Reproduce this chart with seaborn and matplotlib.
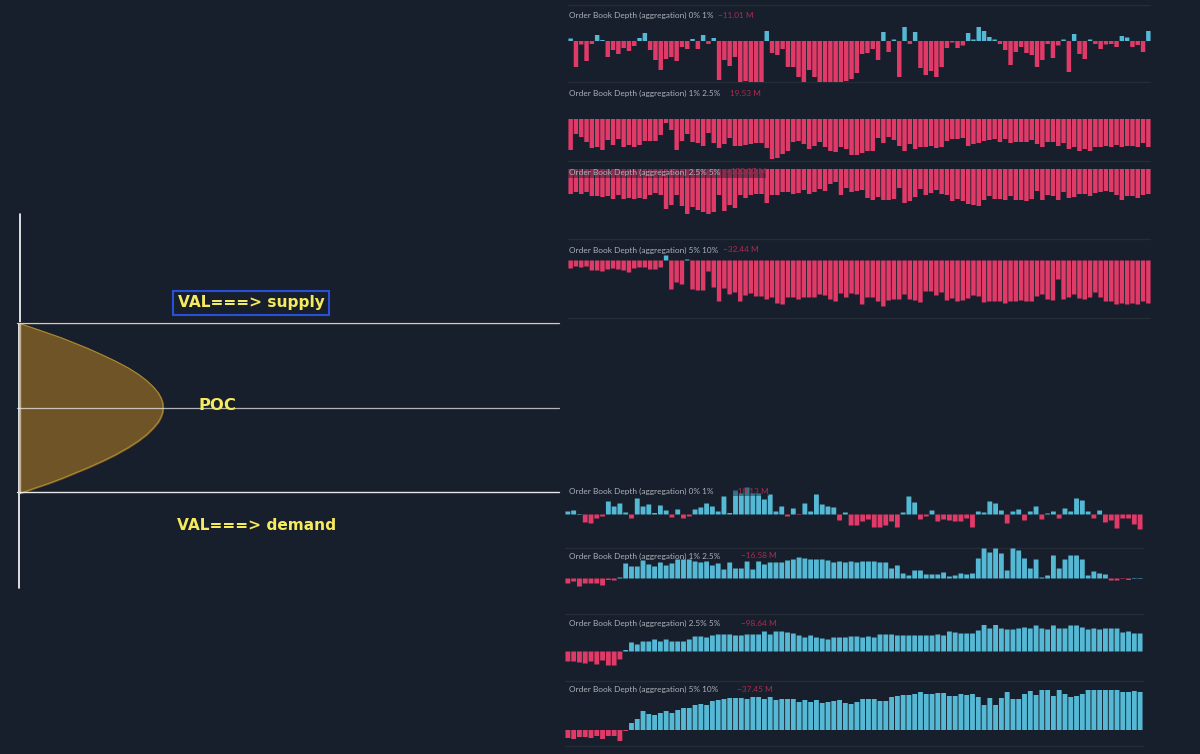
import matplotlib
matplotlib.use('Agg')
import matplotlib.pyplot as plt
import pandas as pd
import seaborn as sns

W, H = 1200, 754
BG = '#161f2b'
RED = '#e03a68'
TEAL = '#55b8d4'
YELLOW = '#f6ea5e'

# bar values
depth_a_0_1 = [2.5, -26, -3.5, -20, -3, 6, 1, -16, -9, -13, -7, -10, -5, 3, 8, -9, -19, -29, -18, -16, -20, -6, -8, 2,
               -8, 6, -3, 3, -39, -19, -25, -16, -41, -40, -41, -41, -41, 10, -12, -14, -8, -26, -26, -36, -41, -29,
               -36, -41, -41, -41, -41, -41, -40, -38, -32,
               -13, -12, -8, -19, 9, -11, 1.5, -36, 14, -3, 9, -27, -34, -30, -36, -26, -7, -1.5, -7, -4.5, 8, 1.5, 14,
               10, 4, 1.5, -3, -9, -24, -11, -6, -12, -14, -26, -19, -3, -17, -4.5, 1.5, -31, 7, -13, -18, 1.5, -3, -8,
               -3.5, -3, -6, 5, 3.5, -6, -4, -11, 10]
depth_a_1_25 = [-31, -15, -18, -23, -29, -28, -31, -21, -26, -20, -28, -26, -28, -26, -22, -22, -22, -16, -4, -11, -31,
                -22, -15, -23, -24, -27, -14, -24, -29, -25, -19, -27, -27, -26, -25, -24, -24, -29, -40, -39, -35, -32,
                -23, -22, -25, -30, -27, -23, -28, -32, -33, -28, -30, -36, -36,
                -34, -32, -32, -19, -24, -18, -21, -27, -32, -25, -30, -28, -28, -27, -29, -28, -22, -20, -20, -19, -27,
                -25, -24, -22, -21, -20, -23, -20, -24, -23, -23, -23, -21, -25, -28, -23, -23, -27, -24, -30, -28, -32,
                -30, -32, -28, -28, -27, -28, -26, -28, -27, -27, -28, -24, -28]
depth_a_25_5 = [-25, -23, -25, -23, -27, -27, -28, -27, -30, -26, -30, -29, -30, -29, -30, -26, -24, -26, -40, -36, -26,
                -37, -45, -38, -41, -43, -45, -43, -26, -42, -36, -39, -26, -29, -26, -25, -25, -34, -26, -26, -23, -23,
                -25, -24, -21, -25, -23, -20, -22, -15, -13, -26, -19, -23, -22,
                -21, -29, -31, -28, -31, -31, -30, -19, -34, -32, -28, -20, -26, -24, -21, -25, -26, -32, -30, -32, -35,
                -36, -37, -31, -27, -30, -30, -31, -27, -31, -31, -32, -30, -22, -31, -26, -27, -31, -23, -29, -28, -25,
                -25, -27, -24, -23, -22, -23, -26, -31, -27, -27, -29, -26, -25]
depth_a_5_10 = [-8, -6, -7, -6, -10, -10, -11, -9, -8, -9, -10, -12, -8, -7, -7, -9, -9, -7, 5, -29, -22, -24, 1, -29,
                -30, -30, -11, -27, -41, -28, -34, -32, -41, -35, -33, -36, -36, -39, -37, -43, -44, -37, -37, -39, -37,
                -37, -37, -34, -35, -39, -41, -33, -37, -33, -34,
                -44, -37, -37, -41, -46, -40, -39, -39, -34, -39, -40, -42, -31, -31, -35, -32, -40, -38, -41, -40, -38,
                -35, -36, -42, -41, -41, -41, -43, -41, -41, -40, -41, -41, -36, -34, -39, -40, -19, -39, -37, -34, -38,
                -39, -37, -32, -37, -41, -41, -44, -43, -44, -43, -44, -41, -43]
depth_b_0_1 = [3, 4, 0.5, -8, -9, -4, -2, 13, 8, 11, 2, -4, 16, 8, 10, 1.5, 9, 4, -3, 5, -4, -2, 5, 7, 11, 8, 3, 18, 1.5,
               24, 21, 27, 21, 21, 15, 20, 3, 8, -2, 6, -0.5, 11, 3, 20, 10, 8, 7, -6, 2, -11, -11,
               -7, -5, -13, -13, -11, -7, -13, 2, 18, 12, -5, -2, 4, -7, -5, -6, -7, -7, -4, -13, 3, 2, 13, 11, 4, -9, 3,
               5, -6, 3, 8, -5, 1, 3, -4, 6, 3, 16, 14, 3, -4, 4, -8, -6, -14, -4, -4, -10, -15]
depth_b_1_25 = [-5, -3, -8, -5, -5, -5, -7, -1.5, -2, 1, 15, 12, 12, 18, 14, 12, 16, 13, 15, 19, 19, 19, 17, 16, 17, 13,
                15, 9, 16, 10, 10, 17, 9, 17, 14, 16, 16, 16, 18, 19, 21, 20, 19, 19, 19, 18, 16, 17, 16, 17, 16,
                17, 17, 17, 16, 16, 10, 13, 5, 3, 8, 8, 4, 4, 4, 6, 2, 3, 5, 4, 5, 20, 30, 26, 30, 25, 8, 30, 28, 20, 10,
                19, 1, 3, 23, 10, 19, 23, 23, 19, 3, 7, 5, 4, -2, -2, -0.5, -1.5, 0.5, 0.5]
depth_b_25_5 = [-10, -10, -11, -12, -10, -13, -9, -14, -14, -8, 1.5, 9, 7, 10, 10, 12, 10, 12, 10, 10, 10, 12, 15, 15, 14,
                16, 17, 17, 17, 16, 16, 17, 17, 17, 20, 17, 20, 20, 19, 18, 16, 14, 16, 14, 13, 12, 14, 14, 14, 15, 15,
                14, 15, 14, 17, 17, 17, 16, 16, 16, 16, 16, 16, 16, 17, 16, 20, 19, 18, 18, 18, 21, 27, 23, 30, 23, 22,
                22, 23, 24, 23, 26, 23, 22, 26, 23, 23, 26, 26, 24, 22, 23, 22, 23, 23, 23, 19, 20, 18, 18]
depth_b_5_10 = [-8, -9, -7, -7, -8, -6, -9, -6, -6, -11, -1, 7, 11, 19, 16, 15, 17, 19, 17, 20, 22, 22, 25, 26, 25, 29, 30,
                31, 32, 32, 32, 31, 33, 33, 31, 33, 30, 31, 31, 31, 28, 30, 28, 30, 27, 28, 29, 30, 27, 26, 28,
                31, 31, 31, 29, 29, 33, 34, 35, 35, 36, 38, 36, 36, 37, 37, 34, 34, 36, 35, 36, 33, 25, 32, 25, 32, 38,
                31, 31, 36, 39, 35, 40, 42, 34, 40, 36, 33, 34, 36, 42, 41, 41, 42, 40, 40, 38, 38, 39, 38]

# panel labels
label_prefix = 'Order Book Depth (aggregation)'
labels_a = ['0% 1%', '1% 2.5%', '2.5% 5%', '5% 10%']
labels_b = ['0% 1%', '1% 2.5%', '2.5% 5%', '5% 10%']
amounts_a = ['\u221211.01 M', '19.53 M', '\u2212100.07 M', '\u221232.44 M']
amounts_b = ['\u221210.13 M', '\u221216.58 M', '\u221298.64 M', '\u221237.45 M']

# profile outline
profile_x = [21, 35, 48.3, 61.7, 75, 88.3, 101.7, 115, 128.3, 138.3, 146.7, 153.3, 158.3, 161, 162.7, 163,
             162.7, 161, 158.3, 153.3, 146.7, 138.3, 128.3, 115, 101.7, 88.3, 75, 61.7, 48.3, 35, 21]
profile_y = [324, 328.7, 333.3, 338, 343.3, 348.7, 354.7, 361, 368, 374.3, 380.7, 387, 393, 398, 403, 407.3,
             412, 417, 422, 428, 434.5, 441, 447.5, 455, 461.5, 467.5, 473, 478.5, 483.5, 488, 493]

sns.set_theme(style='dark', rc={'axes.facecolor': BG, 'figure.facecolor': BG, 'savefig.facecolor': BG})
plt.rcParams['font.family'] = ['DejaVu Sans']

fig = plt.figure(figsize=(W / 100, H / 100), dpi=100)

# overlay axes in picture pixels, used for the profile, lines and text
back = fig.add_axes([0, 0, 1, 1])
back.set_xlim(0, W)
back.set_ylim(H, 0)
back.axis('off')


def add_panel(values, left, right, zero_y, top, bottom):
    ax = fig.add_axes([left / W, 1 - bottom / H, (right - left) / W, (bottom - top) / H])
    df = pd.DataFrame({'bar': range(len(values)), 'value': values})
    df['side'] = ['up' if v > 0 else 'down' for v in df['value']]
    sns.barplot(data=df, x='bar', y='value', hue='side', palette={'up': TEAL, 'down': RED},
                dodge=False, width=0.84, saturation=1, legend=False, ax=ax, linewidth=0)
    # no pixel snapping, so every gap between bars comes out the same
    for p in ax.patches:
        p.set_snap(False)
    ax.set_xlim(-0.5, len(values) - 0.5)
    ax.set_ylim(zero_y - bottom, zero_y - top)
    ax.axis('off')
    ax.patch.set_alpha(0)
    return ax


# upper stack
add_panel(depth_a_0_1, 568, 1151, 41, 20, 84)
add_panel(depth_a_1_25, 568, 1151, 119, 100, 162)
add_panel(depth_a_25_5, 568, 1151, 169, 165, 218)
add_panel(depth_a_5_10, 568, 1151, 260.5, 245, 310)
# lower stack
add_panel(depth_b_0_1, 565, 1143, 514.5, 485, 532)
add_panel(depth_b_1_25, 565, 1143, 578.5, 540, 590)
add_panel(depth_b_25_5, 565, 1143, 651.5, 625, 670)
add_panel(depth_b_5_10, 565, 1143, 730, 690, 745)

# text sits above the panels
top_ax = fig.add_axes([0, 0, 1, 1])
top_ax.set_xlim(0, W)
top_ax.set_ylim(H, 0)
top_ax.axis('off')
top_ax.patch.set_alpha(0)

for y in [4.5, 82, 161, 239, 318]:
    back.plot([568, 1150], [y, y], color='#262c36', lw=1)
for y in [547.5, 614, 680.5, 746]:
    back.plot([565, 1143], [y, y], color='#262c36', lw=1)

# left side profile
back.plot([20, 20], [214, 323], color='white', lw=1.2)
back.plot([19, 19], [323, 588], color='white', lw=1.2)
back.fill_betweenx(profile_y, 20, profile_x, color='#6f5427', zorder=2)
back.plot(profile_x, profile_y, color='#ab8a33', lw=0.8, zorder=3)
back.plot([17, 559], [322, 322], color='black', lw=0.6, zorder=3)
back.plot([17, 559], [323, 323], color='#c9cbcc', lw=1, zorder=4)
back.plot([17, 559], [407.5, 407.5], color='#f2f2f2', lw=0.9, alpha=0.7, zorder=4)
back.plot([17, 559], [492, 492], color='#e8e8e8', lw=1, zorder=4)
back.plot([20, 20], [323, 493], color='#f0ead8', lw=1, alpha=0.6, zorder=5)

top_ax.text(178, 302.5, 'VAL===> supply', color=YELLOW, fontsize=11.1, fontweight='bold', va='center')
top_ax.add_patch(plt.Rectangle((172.5, 291), 156.5, 24, fill=False, ec='#2b50d8', lw=1.5))
top_ax.text(199, 406, 'POC', color=YELLOW, fontsize=11.8, fontweight='bold', va='center')
top_ax.text(177, 525, 'VAL===> demand', color=YELLOW, fontsize=11.1, fontweight='bold', va='center')

title_y_a = [15, 93, 172, 250]
value_x_a = [718, 730, 726, 723]
title_y_b = [491, 556, 623, 689]
value_x_b = [733, 741, 741, 737]
for label, amount, y, vx in zip(labels_a + labels_b, amounts_a + amounts_b, title_y_a + title_y_b, value_x_a + value_x_b):
    # two of the titles are partly hidden by the bars in the reference
    holder = back if y in (250, 556) else top_ax
    holder.text(569, y, f'{label_prefix} {label}', color='#aeb2ba', fontsize=5.95, family='Lato', va='center')
    holder.text(vx, y, amount, color='#b02a50', fontsize=5.95, family='Lato', va='center')

# translucent label backing over the bars
top_ax.add_patch(plt.Rectangle((568, 168), 198, 10, fc=BG, ec='none', alpha=0.45, zorder=0))
top_ax.add_patch(plt.Rectangle((733, 486), 36, 10, fc=BG, ec='none', alpha=0.45, zorder=0))

fig.savefig('out.png', dpi=100)
